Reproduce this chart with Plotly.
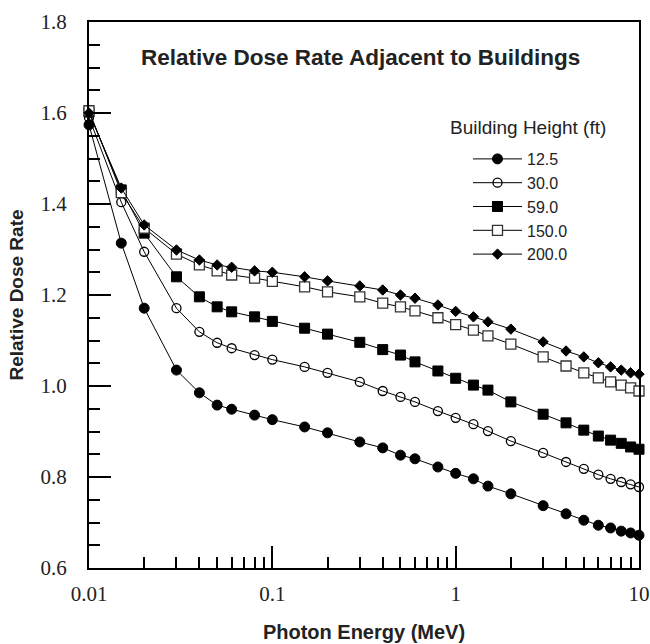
import plotly.graph_objects as go

energy = [0.01, 0.015, 0.02, 0.03, 0.04, 0.05, 0.06, 0.08, 0.1, 0.15, 0.2, 0.3, 0.4, 0.5,
          0.6, 0.8, 1.0, 1.25, 1.5, 2, 3, 4, 5, 6, 7, 8, 9, 10]

h_12_5 = [1.574, 1.314, 1.171, 1.035, 0.985, 0.958, 0.949, 0.936, 0.926, 0.910, 0.897, 0.877,
          0.864, 0.848, 0.840, 0.822, 0.808, 0.796, 0.780, 0.763, 0.737, 0.719, 0.705, 0.694,
          0.688, 0.681, 0.677, 0.672]
h_30 = [1.590, 1.404, 1.295, 1.171, 1.119, 1.095, 1.083, 1.068, 1.058, 1.042, 1.029, 1.009,
        0.989, 0.976, 0.965, 0.945, 0.930, 0.916, 0.901, 0.879, 0.853, 0.833, 0.818, 0.805,
        0.796, 0.789, 0.784, 0.778]
h_59 = [1.602, 1.431, 1.336, 1.240, 1.196, 1.174, 1.163, 1.152, 1.142, 1.127, 1.114, 1.096,
        1.080, 1.068, 1.053, 1.033, 1.017, 1.002, 0.991, 0.965, 0.938, 0.919, 0.903, 0.890,
        0.881, 0.874, 0.866, 0.861]
h_150 = [1.605, 1.425, 1.347, 1.290, 1.266, 1.253, 1.244, 1.237, 1.230, 1.218, 1.207, 1.196,
         1.182, 1.174, 1.165, 1.150, 1.135, 1.123, 1.110, 1.092, 1.064, 1.044, 1.029, 1.018,
         1.009, 1.002, 0.996, 0.989]
h_200 = [1.600, 1.435, 1.354, 1.299, 1.277, 1.266, 1.261, 1.253, 1.250, 1.240, 1.231, 1.220,
         1.211, 1.200, 1.193, 1.178, 1.164, 1.152, 1.141, 1.125, 1.097, 1.077, 1.064, 1.051,
         1.042, 1.035, 1.029, 1.026]

series_names = ["12.5", "30.0", "59.0", "150.0", "200.0"]
series_values = [h_12_5, h_30, h_59, h_150, h_200]

marker_styles = [
    dict(symbol="circle", size=10, color="black", line=dict(color="black", width=1)),
    dict(symbol="circle-open", size=9, color="black", line=dict(color="black", width=1.3)),
    dict(symbol="square", size=10, color="black", line=dict(color="black", width=1)),
    dict(symbol="square", size=10, color="white", line=dict(color="#333", width=1.3)),
    dict(symbol="diamond", size=8, color="black", line=dict(color="black", width=1)),
]

fig = go.Figure()
for name, vals, mk in zip(series_names, series_values, marker_styles):
    fig.add_trace(go.Scatter(
        x=energy, y=vals, name=name, mode="lines+markers",
        line=dict(color="black", width=1), marker=mk,
        legendgroup=name, cliponaxis=False,
    ))

axis_common = dict(
    showline=True, linecolor="black", linewidth=2, mirror=True,
    ticks="inside", ticklen=22, tickwidth=1.5, tickcolor="black",
    showgrid=False, zeroline=False, automargin=False,
    tickfont=dict(family="Liberation Serif", size=21, color="#222"),
)

fig.update_xaxes(
    type="log", range=[-2, 1], tickvals=[0.01, 0.1, 1, 10], ticktext=["0.01", "0.1", "1", "10"],
    minor=dict(ticks="inside", ticklen=11, tickwidth=1.5, tickcolor="black", dtick="D1", showgrid=False),
    title=dict(text="<b>Photon Energy (MeV)</b>", font=dict(family="Liberation Sans", size=20, color="#222"), standoff=20),
    ticklabelstandoff=6,
    **axis_common,
)
fig.update_yaxes(
    range=[0.6, 1.8], dtick=0.2, tick0=0.6, tickformat=".1f",
    minor=dict(ticks="inside", ticklen=11, tickwidth=1.5, tickcolor="black", dtick=0.05, showgrid=False),
    title=dict(text="<b>Relative Dose Rate</b>", font=dict(family="Liberation Sans", size=19, color="#222"), standoff=12),
    ticklabelstandoff=16,
    **axis_common,
)

fig.add_annotation(
    text="<b>Relative Dose Rate Adjacent to Buildings</b>",
    x=(360 - 89) / 550, y=1 - (57 - 22) / 546,
    xref="x domain", yref="y domain", showarrow=False, xanchor="center", yanchor="middle",
    font=dict(family="Liberation Sans", size=22.5, color="#222"),
)

fig.add_annotation(
    text="Building Height (ft)", x=(448 - 89) / 550, y=1 - (128 - 22) / 546,
    xref="x domain", yref="y domain", showarrow=False, xanchor="left", yanchor="middle",
    font=dict(family="Liberation Sans", size=19, color="#222"),
)

fig.update_layout(
    width=650, height=644,
    margin=dict(l=89, r=11, t=22, b=76),
    plot_bgcolor="white", paper_bgcolor="white",
    legend=dict(
        x=(468 - 89) / 550, y=1 - (142 - 22) / 546, xanchor="left", yanchor="top",
        font=dict(family="Liberation Sans", size=16, color="#222"),
        bgcolor="rgba(0,0,0,0)", tracegroupgap=0, itemwidth=49,
    ),
)

fig.write_html("out.html")
